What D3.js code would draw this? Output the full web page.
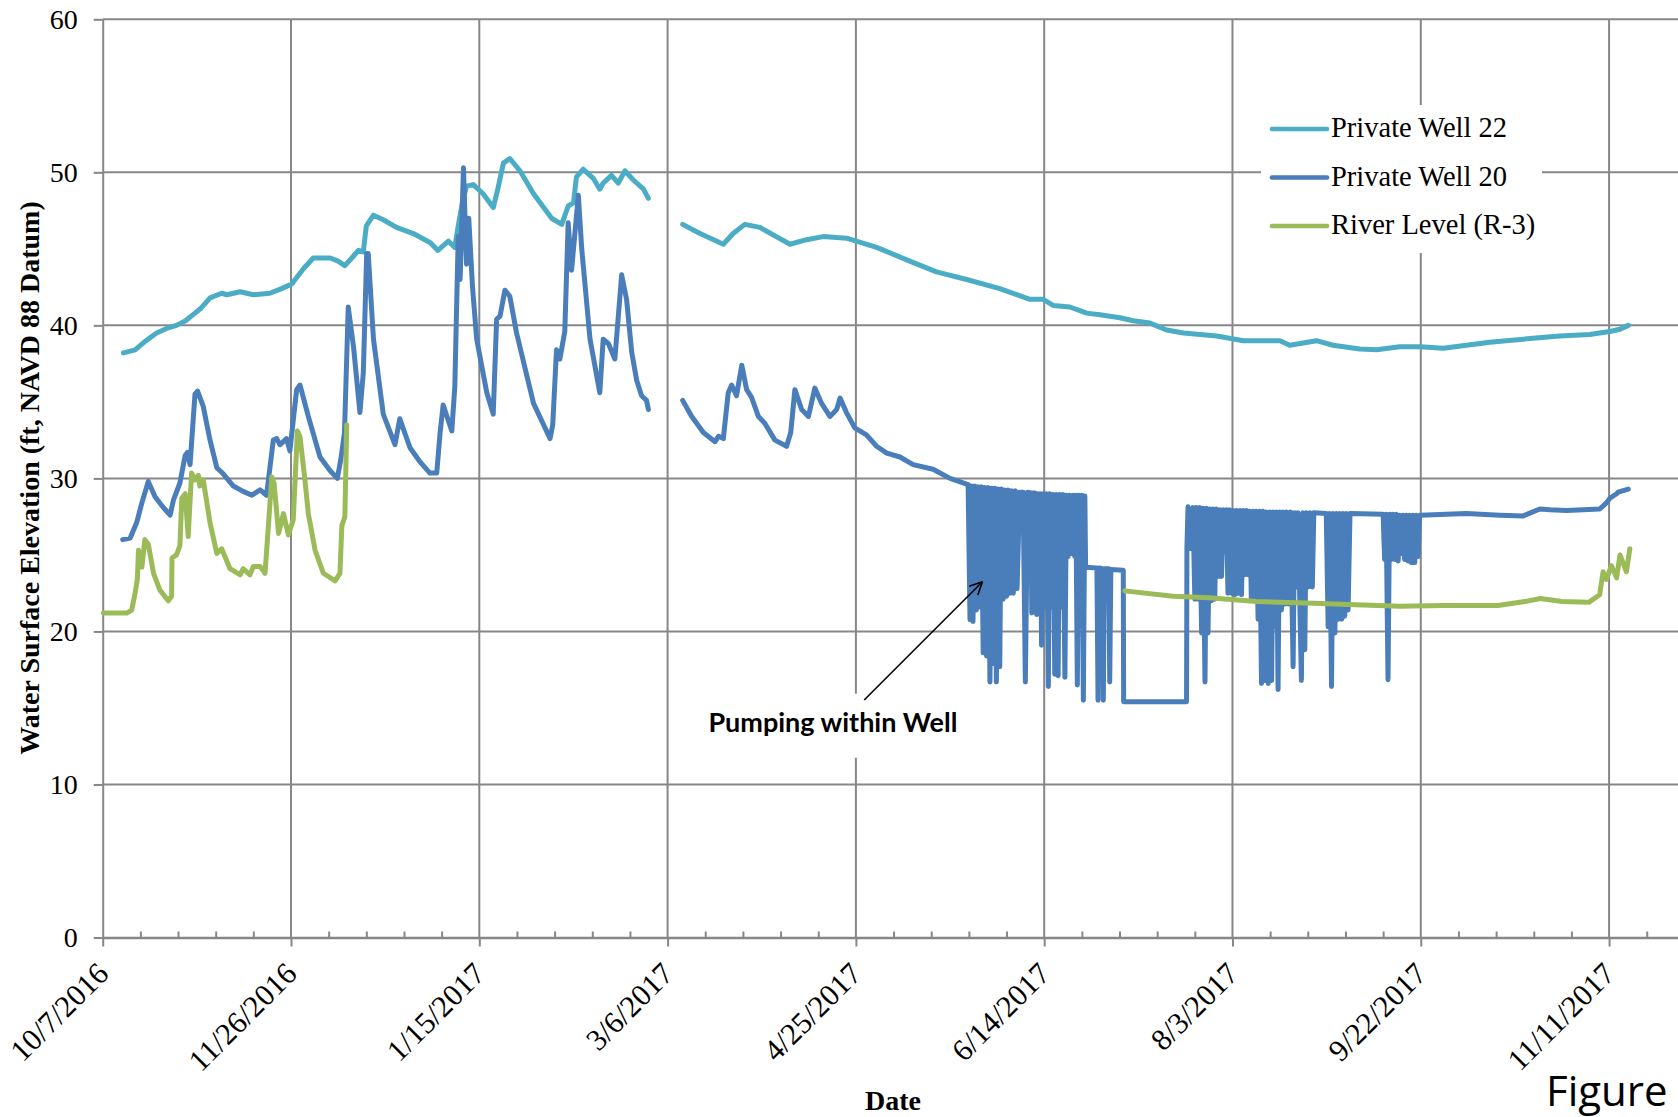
<!DOCTYPE html>
<html><head><meta charset="utf-8">
<script src="https://cdn.jsdelivr.net/npm/d3@7"></script>
<style>
body{margin:0;background:#fff;}
svg{display:block;}
</style>
</head><body>
<svg id="chart" width="1678" height="1117"></svg>
<script>
// ---------- DATA ----------
const startDate = Date.UTC(2016, 9, 7);      // day 0 = 10/7/2016
const endDay = 418.3;                          // right edge of visible plot
const xTickDays = [0, 50, 100, 150, 200, 250, 300, 350, 400];
const xMinorStep = 10;
const yTicks = [0, 10, 20, 30, 40, 50, 60];
const seriesNames = ["Private Well 22", "Private Well 20", "River Level (R-3)"];
const seriesColors = ["#4BACC6", "#4A7EBB", "#9BBB59"];

// [day since 10/7/2016, elevation ft]; null = data gap
const well22 = [
[5.5,38.2],[8.6,38.4],[11.5,39.0],[14.3,39.5],[17,39.8],[19.6,40.0],[22,40.3],[24,40.7],[26,41.1],[28.5,41.8],
[31.6,42.1],[33,42.0],[36.5,42.2],[40,42.0],[44.4,42.1],[47.5,42.4],[50.2,42.7],[53.3,43.7],[55.9,44.4],[60.4,44.4],
[62.5,44.2],[64.3,43.9],[66.5,44.5],[67.9,44.9],[69.2,44.8],[70,46.5],[71.9,47.2],[74.5,46.9],[78,46.4],[82.5,46.0],
[87,45.4],[89,44.9],[91.8,45.5],[93.5,45.1],[94.4,46.5],[95.5,48.0],[96.6,49.1],[98.4,49.2],[101,48.6],[103.7,47.7],
[105,49.0],[106.4,50.6],[108.1,50.9],[110.8,50.1],[114.4,48.6],[119.2,47.0],[121.9,46.6],[123.6,47.8],[125,48.0],[125.8,49.7],
[127.6,50.2],[130.3,49.6],[132,48.9],[132.9,49.3],[135.1,49.8],[136.9,49.3],[138.7,50.1],[140.9,49.5],[143.6,48.9],[144.9,48.3],
[149,null],
[154,46.6],[158.6,46.0],[164.8,45.3],[167.4,46.0],[170.5,46.6],[174.5,46.4],[182.5,45.3],[186.9,45.6],[191.3,45.8],[197.5,45.7],
[205.5,45.1],[214.3,44.2],[221.4,43.5],[229.4,43.0],[238.2,42.4],[246.2,41.7],[249.7,41.7],[252.4,41.3],[256.8,41.2],[261.3,40.8],
[264.8,40.7],[270.1,40.5],[273.6,40.3],[278.1,40.15],[282.5,39.7],[287,39.5],[295.8,39.3],[302.9,39.0],[312.6,39.0],[315.2,38.7],
[322.3,39.0],[326.7,38.7],[333.8,38.45],[338.3,38.4],[344.4,38.6],[349.8,38.6],[356,38.5],[362.1,38.7],[368.3,38.9],[377.2,39.1],
[386.9,39.3],[394.9,39.4],[397.5,39.5],[400.2,39.6],[402.9,39.75],[405.1,40.0]
];

const well20 = [
[5.3,26.0],[7.3,26.1],[9.0,27.1],[10.4,28.4],[12.1,29.8],[13.9,28.8],[16.1,28.1],[17.9,27.6],[18.8,28.6],[20.5,29.7],
[21.9,31.5],[22.5,31.7],[23.2,30.9],[24.5,35.5],[25.2,35.7],[26.7,34.7],[28.5,32.5],[30.3,30.7],[32,30.3],[34.7,29.5],
[37.3,29.15],[39.6,28.9],[41.8,29.25],[43.5,28.9],[45.3,32.5],[46.2,32.6],[47.1,32.2],[48.8,32.6],[49.7,31.8],[51.5,35.8],
[52.4,36.1],[54.6,34.05],[57.7,31.4],[60.4,30.5],[62.3,30.0],[63.2,31.2],[64.2,33.0],[65.2,41.2],[66.6,38.6],[68.3,34.3],
[69.2,36.9],[70.1,44.7],[70.5,44.7],[71.9,39.1],[74.5,34.2],[77.6,32.2],[78.9,33.9],[81.6,32.0],[84.2,31.1],[86.9,30.35],
[88.7,30.35],[89.6,33.0],[90.4,34.8],[92.7,33.1],[93.5,36.0],[94.4,45.8],[94.9,43.0],[95.8,50.3],[96.6,44.0],[97.2,47.0],
[98.2,42.5],[99.3,39.1],[102,35.6],[103.7,34.2],[104.6,40.4],[105.5,40.6],[106.8,42.3],[108.1,41.9],[109.9,39.5],[114.4,34.9],
[118.8,32.6],[119.5,33.5],[120.5,38.4],[121.4,37.8],[122.7,39.6],[123.6,46.7],[124.5,43.6],[126.3,48.5],[127.2,45.0],[129.4,39.1],
[132,35.6],[132.9,39.1],[134.3,38.8],[136,37.8],[137.8,43.3],[139.1,41.7],[140.5,38.2],[141.8,36.4],[143.1,35.4],[144.4,35.1],[144.9,34.5],
[149,null],
[154,35.1],[156.4,34.05],[159.5,33.0],[162.6,32.4],[163.5,32.75],[164.8,32.6],[166.1,35.6],[167,36.1],[168.3,35.4],[169.7,37.4],
[171,35.8],[172.3,35.3],[174.1,34.05],[175.8,33.6],[178.5,32.5],[181.6,32.1],[182.7,33.0],[183.8,35.8],[185.6,34.5],[187.4,34.05],
[189.1,35.9],[190.9,34.9],[193.1,34.05],[194.9,34.5],[195.8,35.25],[197.5,34.3],[199.7,33.3],[202.8,32.85],[205.5,32.1],[208.2,31.65],
[211.7,31.4],[215.2,30.9],[220.5,30.6],[225,30.0],[229.8,29.6],
[230.3,20.76],[230.7,29.5],[231.1,20.65],[231.5,29.5],[232.0,21.4],[232.4,29.45],[232.9,21.6],[233.3,29.45],[233.8,18.6],[234.2,29.4],
[234.7,18.4],[235.1,29.4],[235.6,16.7],[236.0,29.35],[236.5,17.9],[236.9,29.35],[237.3,16.7],[237.8,29.3],[238.2,17.7],[238.6,29.3],
[239.1,22.1],[239.5,29.25],[240.0,22.3],[240.4,29.25],[240.9,22.5],[241.3,29.2],[241.8,22.5],[242.3,29.2],[242.8,22.8],[243.5,29.1],
[244.4,29.1],[245.0,16.7],[245.6,29.1],[246.5,29.05],[246.7,21.2],[246.9,29.05],[247.5,29.05],[248.0,21.1],[248.4,29.0],[248.8,21.4],
[249.0,29.0],[249.3,19.1],[249.7,29.0],[250.2,21.6],[250.6,29.0],[251.1,16.4],[251.5,29.0],[252.0,21.6],[252.4,28.95],[252.8,17.2],
[253.2,28.95],[253.7,17.1],[254.1,28.95],[254.6,21.6],[255.0,28.95],[255.5,17.0],[255.9,28.9],[256.4,24.9],[256.8,28.9],[257.3,25.1],
[257.7,28.9],[258.1,24.9],[258.4,28.9],[258.8,16.5],[259.2,28.9],[259.6,23.4],[260.0,28.9],[260.4,15.5],[260.8,28.85],[261.0,24.2],
[264.0,24.15],[264.3,15.5],[264.6,24.15],[265.5,24.1],[265.7,15.5],[266.0,24.1],[267.2,24.1],[267.4,16.7],[267.7,24.05],[271.0,24.0],
[271.1,15.4],[287.8,15.4],[287.9,25.5],[288.2,28.15],
[289.1,25.4],[289.5,28.1],[290.0,22.1],[290.4,28.1],[290.9,22.1],[291.3,28.1],[291.8,19.9],[292.2,28.05],[292.7,16.7],[293.1,28.05],
[293.5,19.9],[294.0,28.0],[294.4,22.0],[294.8,28.0],[295.3,22.1],[295.7,28.0],[296.2,23.6],[296.6,27.95],[297.1,23.6],[297.5,27.95],
[298.0,25.2],[298.4,27.95],[298.8,22.5],[299.2,27.95],[299.7,22.5],[300.1,27.9],[300.6,22.4],[301.0,27.9],[301.5,22.5],[302.0,27.9],
[302.4,22.4],[302.8,27.9],[303.3,23.7],[303.7,27.9],[304.2,23.7],[304.6,27.85],[305.0,22.1],[305.5,27.85],[305.9,22.0],[306.3,27.85],
[306.8,20.8],[307.2,27.85],[307.7,16.6],[308.1,27.85],[308.6,16.8],[309.0,27.8],[309.5,16.6],[309.9,27.8],[310.4,16.8],[310.8,27.8],
[311.2,20.3],[311.7,27.8],[312.1,16.2],[312.5,27.8],[313.0,21.4],[313.4,27.8],[313.9,21.8],[314.3,27.8],[314.8,21.8],[315.4,27.8],
[316.1,17.7],[316.5,27.75],[317.0,22.9],[317.4,27.75],[318.3,16.8],[318.7,27.75],[319.2,18.8],[319.6,27.75],[320.1,22.9],[320.6,27.75],
[321.2,22.9],[321.6,27.75],[324.9,27.7],[325.4,20.3],[325.8,27.7],[326.3,16.4],[326.7,27.7],[327.2,19.9],[327.6,27.7],[328.1,20.8],
[328.5,27.7],[329.0,20.8],[329.4,27.7],[329.8,21.0],[330.2,27.7],[330.7,21.4],[331.2,27.7],
[340.0,27.65],[340.4,24.7],[340.8,27.65],[341.3,16.85],[341.7,27.65],[342.2,24.7],[342.6,27.65],[343.1,24.7],[343.5,27.65],[344.0,24.6],
[344.4,27.6],[344.9,25.1],[345.3,27.6],[345.7,24.7],[346.2,27.6],[346.6,24.6],[347.0,27.6],[347.5,24.5],[347.9,27.6],[348.4,24.5],
[348.8,27.6],[349.3,24.9],[349.7,27.6],
[362.1,27.7],[371,27.6],[377.2,27.55],[381.6,28.0],[384.3,27.95],[388.7,27.9],[397.5,28.0],[399.3,28.4],[400.2,28.7],[402.0,29.0],
[402.4,29.1],[405.1,29.3]
];

const riverR3 = [
[0.2,21.2],[6.4,21.2],[7.7,21.4],[8.6,22.5],[9.2,23.4],[9.5,25.3],[10.4,24.2],[11.2,26.0],[12.1,25.7],[13.5,23.8],
[15.2,22.7],[17.4,22.0],[18.3,22.3],[18.4,24.8],[19.6,25.0],[20.5,25.6],[21.0,28.7],[21.9,29.0],[22.7,26.2],[23.6,30.35],
[24.5,29.9],[25.4,30.2],[25.8,29.5],[26.7,29.9],[28.5,27.1],[30.3,25.1],[31.6,25.4],[33.8,24.1],[36.5,23.7],[37.3,24.1],
[39.1,23.7],[40.0,24.25],[41.8,24.25],[43.1,23.8],[44.0,26.9],[44.9,30.1],[45.5,29.7],[46.7,26.4],[48.0,27.7],[49.3,26.3],
[50.6,27.3],[51.7,33.1],[52.4,32.7],[53.7,29.9],[54.6,27.7],[56.4,25.3],[58.6,23.8],[61.7,23.3],[63.0,23.8],[63.5,26.9],
[64.3,27.5],[64.8,33.5],
[150,null],
[271.4,22.65],[284.2,22.3],[293.8,22.2],[306.4,21.95],[319.6,21.85],[332.9,21.75],[344.4,21.65],[356,21.7],[370.5,21.7],[377.6,21.95],
[381.8,22.15],[387.5,21.95],[394.6,21.9],[397.5,22.4],[398.4,23.9],[399.3,23.4],[400.6,24.3],[402.0,23.5],[402.9,25.0],[404.6,23.9],[405.5,25.4]
];

const annotationText = "Pumping within Well";
const annotationTip = [233.6, 23.25];
const annotationTail = [202.2, 15.52];
const annotationLabel = [193.9, 13.45];

// ---------- CHART ----------
const plotLeft = 102.7, plotRight = 1678, plotTop = 19.3, plotBottom = 937.5;
const dayToDate = d => new Date(startDate + d * 864e5);

const x = d3.scaleUtc().domain([dayToDate(0), dayToDate(endDay)]).range([plotLeft, plotRight]);
const y = d3.scaleLinear().domain([0, 60]).range([plotBottom, plotTop]);

const svg = d3.select("#chart");
const gridColor = "#878787";
const serif = "'Liberation Serif', 'Times New Roman', serif";

// Horizontal gridlines
svg.append("g").selectAll("line").data(yTicks.filter(v => v > 0)).join("line")
  .attr("x1", plotLeft).attr("x2", plotRight)
  .attr("y1", d => y(d)).attr("y2", d => y(d))
  .attr("stroke", gridColor).attr("stroke-width", 2);

// Vertical gridlines
svg.append("g").selectAll("line").data(xTickDays.filter(d => d > 0)).join("line")
  .attr("x1", d => x(dayToDate(d))).attr("x2", d => x(dayToDate(d)))
  .attr("y1", y(60)).attr("y2", y(0))
  .attr("stroke", gridColor).attr("stroke-width", 2);

// Y axis
const yAxis = svg.append("g").attr("transform", `translate(${plotLeft},0)`)
  .call(d3.axisLeft(y).tickValues(yTicks).tickSize(9).tickPadding(16).tickSizeOuter(0));
yAxis.select(".domain").attr("stroke", gridColor).attr("stroke-width", 2);
yAxis.selectAll(".tick line").attr("stroke", gridColor).attr("stroke-width", 2);
yAxis.selectAll("text").attr("font-family", serif).attr("font-size", 28).attr("fill", "#000");

// X axis minor ticks (inside)
const minorDays = d3.range(0, endDay, xMinorStep).filter(d => d % 50 !== 0);
const xMinor = svg.append("g").attr("transform", `translate(0,${plotBottom})`)
  .call(d3.axisBottom(x).tickValues(minorDays.map(dayToDate)).tickSize(-6).tickFormat("").tickSizeOuter(0));
xMinor.select(".domain").remove();
xMinor.selectAll(".tick line").attr("stroke", gridColor).attr("stroke-width", 2);

// X axis major
const fmt = d3.utcFormat("%-m/%-d/%Y");
const xAxis = svg.append("g").attr("transform", `translate(0,${plotBottom})`)
  .call(d3.axisBottom(x).tickValues(xTickDays.map(dayToDate)).tickSize(9).tickFormat(fmt).tickSizeOuter(0));
xAxis.select(".domain").attr("stroke", gridColor).attr("stroke-width", 2.5);
xAxis.selectAll(".tick line").attr("stroke", gridColor).attr("stroke-width", 2);
xAxis.selectAll("text")
  .attr("font-family", serif).attr("font-size", 30.5).attr("fill", "#000")
  .attr("x", 0).attr("y", 0).attr("dy", 0)
  .attr("transform", "translate(7,38) rotate(-45)")
  .style("text-anchor", "end");

// Axis titles
svg.append("text").attr("transform", `translate(39,478) rotate(-90)`)
  .attr("text-anchor", "middle").attr("font-family", serif).attr("font-weight", "bold").attr("font-size", 28)
  .text("Water Surface Elevation (ft, NAVD 88 Datum)");
svg.append("text").attr("x", 893).attr("y", 1110)
  .attr("text-anchor", "middle").attr("font-family", serif).attr("font-weight", "bold").attr("font-size", 28)
  .text("Date");

// Series
const line = d3.line().defined(d => d[1] !== null)
  .x(d => x(dayToDate(d[0]))).y(d => y(d[1]));
const seriesData = [well22, well20, riverR3];
svg.append("g").selectAll("path").data(seriesData).join("path")
  .attr("d", line).attr("fill", "none")
  .attr("stroke", (d, i) => seriesColors[i]).attr("stroke-width", 5)
  .attr("stroke-linejoin", "round").attr("stroke-linecap", "round");

// Legend
const lg = svg.append("g");
lg.append("rect").attr("x", 1261).attr("y", 105).attr("width", 281).attr("height", 148).attr("fill", "#fff");
seriesNames.forEach((n, i) => {
  const ly = 129 + i * 48.5;
  lg.append("line").attr("x1", 1272).attr("x2", 1327).attr("y1", ly).attr("y2", ly)
    .attr("stroke", seriesColors[i]).attr("stroke-width", 4.7).attr("stroke-linecap", "round");
  lg.append("text").attr("x", 1331).attr("y", ly + 8)
    .attr("font-family", serif).attr("font-size", 28.5).attr("fill", "#000").text(n);
});

// Annotation
const ann = svg.append("g");
const lx = x(dayToDate(annotationLabel[0])), lyy = y(annotationLabel[1]);
ann.append("rect").attr("x", lx - 132).attr("y", lyy - 38).attr("width", 264).attr("height", 64).attr("fill", "#fff");
ann.append("text").attr("x", lx).attr("y", lyy).attr("text-anchor", "middle")
  .attr("font-family", "Lato, 'Open Sans', sans-serif").attr("font-weight", "bold").attr("font-size", 27)
  .attr("fill", "#000").text(annotationText);
const tx = x(dayToDate(annotationTail[0])), ty = y(annotationTail[1]);
const hx = x(dayToDate(annotationTip[0])), hy = y(annotationTip[1]);
ann.append("line").attr("x1", tx).attr("y1", ty).attr("x2", hx).attr("y2", hy)
  .attr("stroke", "#000").attr("stroke-width", 1.6);
const ang = Math.atan2(hy - ty, hx - tx);
[0.45, -0.45].forEach(a => {
  ann.append("line").attr("x1", hx).attr("y1", hy)
    .attr("x2", hx - 14 * Math.cos(ang + a)).attr("y2", hy - 14 * Math.sin(ang + a))
    .attr("stroke", "#000").attr("stroke-width", 1.6);
});

// Cropped caption
svg.append("text").attr("x", 1546).attr("y", 1106)
  .attr("font-family", "'Open Sans', sans-serif").attr("font-size", 42).attr("fill", "#000").text("Figure");
</script>
</body></html>
